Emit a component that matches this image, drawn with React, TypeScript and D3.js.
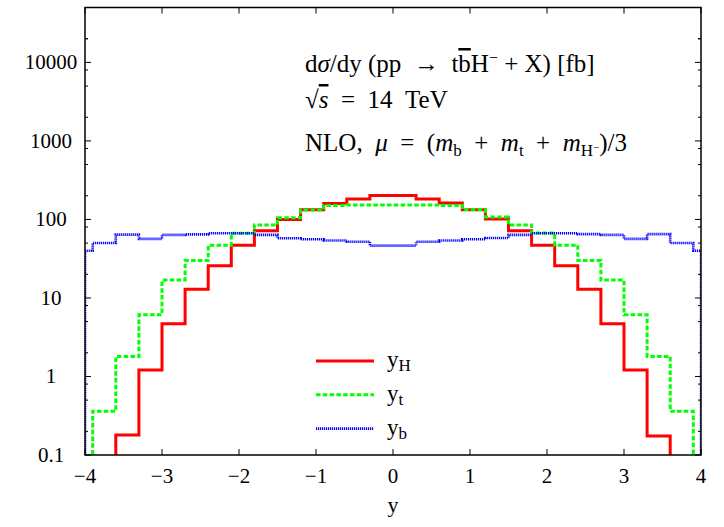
import React from 'react';
import * as d3 from 'd3';

// bin edges (rapidity y), 0.3 wide
const EDGES_H = [-3.6, -3.3, -3.0, -2.7, -2.4, -2.1, -1.8, -1.5, -1.2, -0.9, -0.6, -0.3, 0, 0.3, 0.6, 0.9, 1.2, 1.5, 1.8, 2.1, 2.4, 2.7, 3.0, 3.3, 3.6];
const EDGES_T = [-3.9, -3.6, -3.3, -3.0, -2.7, -2.4, -2.1, -1.8, -1.5, -1.2, -0.9, -0.6, -0.3, 0, 0.3, 0.6, 0.9, 1.2, 1.5, 1.8, 2.1, 2.4, 2.7, 3.0, 3.3, 3.6, 3.9];
const EDGES_B = [-4, -3.9, -3.6, -3.3, -3.0, -2.7, -2.4, -2.1, -1.8, -1.5, -1.2, -0.9, -0.6, -0.3, 0, 0.3, 0.6, 0.9, 1.2, 1.5, 1.8, 2.1, 2.4, 2.7, 3.0, 3.3, 3.6, 3.9, 4];

// dsigma/dy [fb]
const Y_H = [0.18, 1.21, 4.7, 12.9, 25.8, 47, 72, 100, 133, 160, 182, 201, 201, 182, 162, 133, 101, 72, 47, 25.8, 12.9, 4.7, 1.21, 0.175];
const Y_T = [0.36, 1.8, 6.1, 16.9, 29.9, 46.9, 66.7, 85, 105, 132, 150, 153, 153, 153, 153, 150, 134, 107, 85, 67, 47, 29.9, 16.9, 6.1, 1.8, 0.36];
const Y_B = [40, 50, 64, 56.5, 63.5, 64.5, 66.7, 66.7, 63.5, 57.6, 56, 54, 52, 46.4, 46.4, 52, 54, 56, 58, 63.5, 66.7, 66.7, 65, 63.5, 56.5, 65, 50, 40];

const X_TICKS = [-4, -3, -2, -1, 0, 1, 2, 3, 4];
const Y_TICKS = [0.1, 1, 10, 100, 1000, 10000];
const Y_TICK_LABELS = ['0.1', '1', '10', '100', '1000', '10000'];
const MINOR_FACTORS = [2, 5, 8];

const W = 724, H = 527;
const L = 85, R = 701, T = 7.5, B = 455;
const FONT = '"Liberation Serif", "DejaVu Serif", serif';
const SP = '\u2002'; // wider space, like TeX math spacing

const x = d3.scaleLinear().domain([-4, 4]).range([L, R]);
const y = d3.scaleLog().domain([0.1, 50000]).range([B, T]);

function stepPath(edges: number[], vals: number[]) {
  let d = `M${x(edges[0])},${B + 20}`;
  vals.forEach((v, i) => {
    d += `L${x(edges[i])},${y(v)}L${x(edges[i + 1])},${y(v)}`;
  });
  d += `L${x(edges[edges.length - 1])},${B + 20}`;
  return d;
}

const SERIES = [
  { edges: EDGES_H, vals: Y_H, color: '#ff0000', width: 3, dash: undefined as string | undefined, label: 'H' },
  { edges: EDGES_T, vals: Y_T, color: '#00ff00', width: 3, dash: '4.5,2.3', label: 't' },
  { edges: EDGES_B, vals: Y_B, color: '#0000ff', width: 2.6, dash: '1.2,0.8', label: 'b' },
];

export default function App() {
  const minor: number[] = [];
  Y_TICKS.forEach(t => MINOR_FACTORS.forEach(f => { if (t * f < 50000) minor.push(t * f); }));
  minor.push(20000);

  return (
    <svg width={W} height={H} style={{ position: 'absolute', left: 0, top: 0, background: '#fff' }} fontFamily={FONT}>
      <defs>
        <clipPath id="plot">
          <rect x={L} y={T} width={R - L} height={B - T} />
        </clipPath>
      </defs>

      <g clipPath="url(#plot)">
        {SERIES.map((s, i) => (
          <path key={i} d={stepPath(s.edges, s.vals)} fill="none" stroke={s.color}
            strokeWidth={s.width} strokeDasharray={s.dash} strokeLinejoin="miter" />
        ))}
      </g>

      {/* frame */}
      <rect x={L} y={T} width={R - L} height={B - T} fill="none" stroke="#000" strokeWidth={1.5} />

      {/* x ticks */}
      {X_TICKS.map(t => (
        <g key={t}>
          <line x1={x(t)} x2={x(t)} y1={B} y2={B - 6} stroke="#000" strokeWidth={1} />
          <line x1={x(t)} x2={x(t)} y1={T} y2={T + 6} stroke="#000" strokeWidth={1} />
          <text x={x(t)} y={483} textAnchor="middle" fontSize={21}>{t < 0 ? `\u2212${-t}` : t}</text>
        </g>
      ))}

      {/* y ticks */}
      {Y_TICKS.map((t, i) => (
        <g key={t}>
          <line x1={L} x2={L + 6} y1={y(t)} y2={y(t)} stroke="#000" strokeWidth={1} />
          <line x1={R} x2={R - 6} y1={y(t)} y2={y(t)} stroke="#000" strokeWidth={1} />
          <text x={51} y={y(t) + 7} textAnchor="middle" fontSize={21}>{Y_TICK_LABELS[i]}</text>
        </g>
      ))}
      {minor.map(t => (
        <g key={'m' + t}>
          <line x1={L} x2={L + 3} y1={y(t)} y2={y(t)} stroke="#000" strokeWidth={1} />
          <line x1={R} x2={R - 3} y1={y(t)} y2={y(t)} stroke="#000" strokeWidth={1} />
        </g>
      ))}

      <text x={(L + R) / 2} y={512} textAnchor="middle" fontSize={22}>y</text>

      {/* annotations */}
      <text x={305} y={72} fontSize={25}>
        d<tspan fontStyle="italic">σ</tspan>/dy (pp{SP}→{SP}t<tspan textDecoration="overline">b</tspan>H<tspan dy={-9} fontSize={16}>−</tspan><tspan dy={9}> + X) [fb]</tspan>
      </text>
      <text x={305} y={108} fontSize={25}>
        √<tspan fontStyle="italic" textDecoration="overline">s</tspan>{SP}={SP}14{SP}TeV
      </text>
      <text x={305} y={151} fontSize={25}>
        NLO,{SP}<tspan fontStyle="italic">μ</tspan>{SP}={SP}(<tspan fontStyle="italic">m</tspan><tspan dy={5} fontSize={17}>b</tspan><tspan dy={-5}>{SP}+{SP}</tspan><tspan fontStyle="italic">m</tspan><tspan dy={5} fontSize={17}>t</tspan><tspan dy={-5}>{SP}+{SP}</tspan><tspan fontStyle="italic">m</tspan><tspan dy={5} fontSize={17}>H</tspan><tspan dy={-5} fontSize={11}>−</tspan><tspan dy={0}>)/3</tspan>
      </text>

      {/* legend */}
      {SERIES.map((s, i) => {
        const ly = 361 + i * 33.8;
        return (
          <g key={'lg' + i}>
            <line x1={316} x2={374} y1={ly} y2={ly} stroke={s.color} strokeWidth={s.width} strokeDasharray={s.dash} />
            <text x={387} y={ly + 6} fontSize={23}>y<tspan dy={4} fontSize={17}>{s.label}</tspan></text>
          </g>
        );
      })}
    </svg>
  );
}
